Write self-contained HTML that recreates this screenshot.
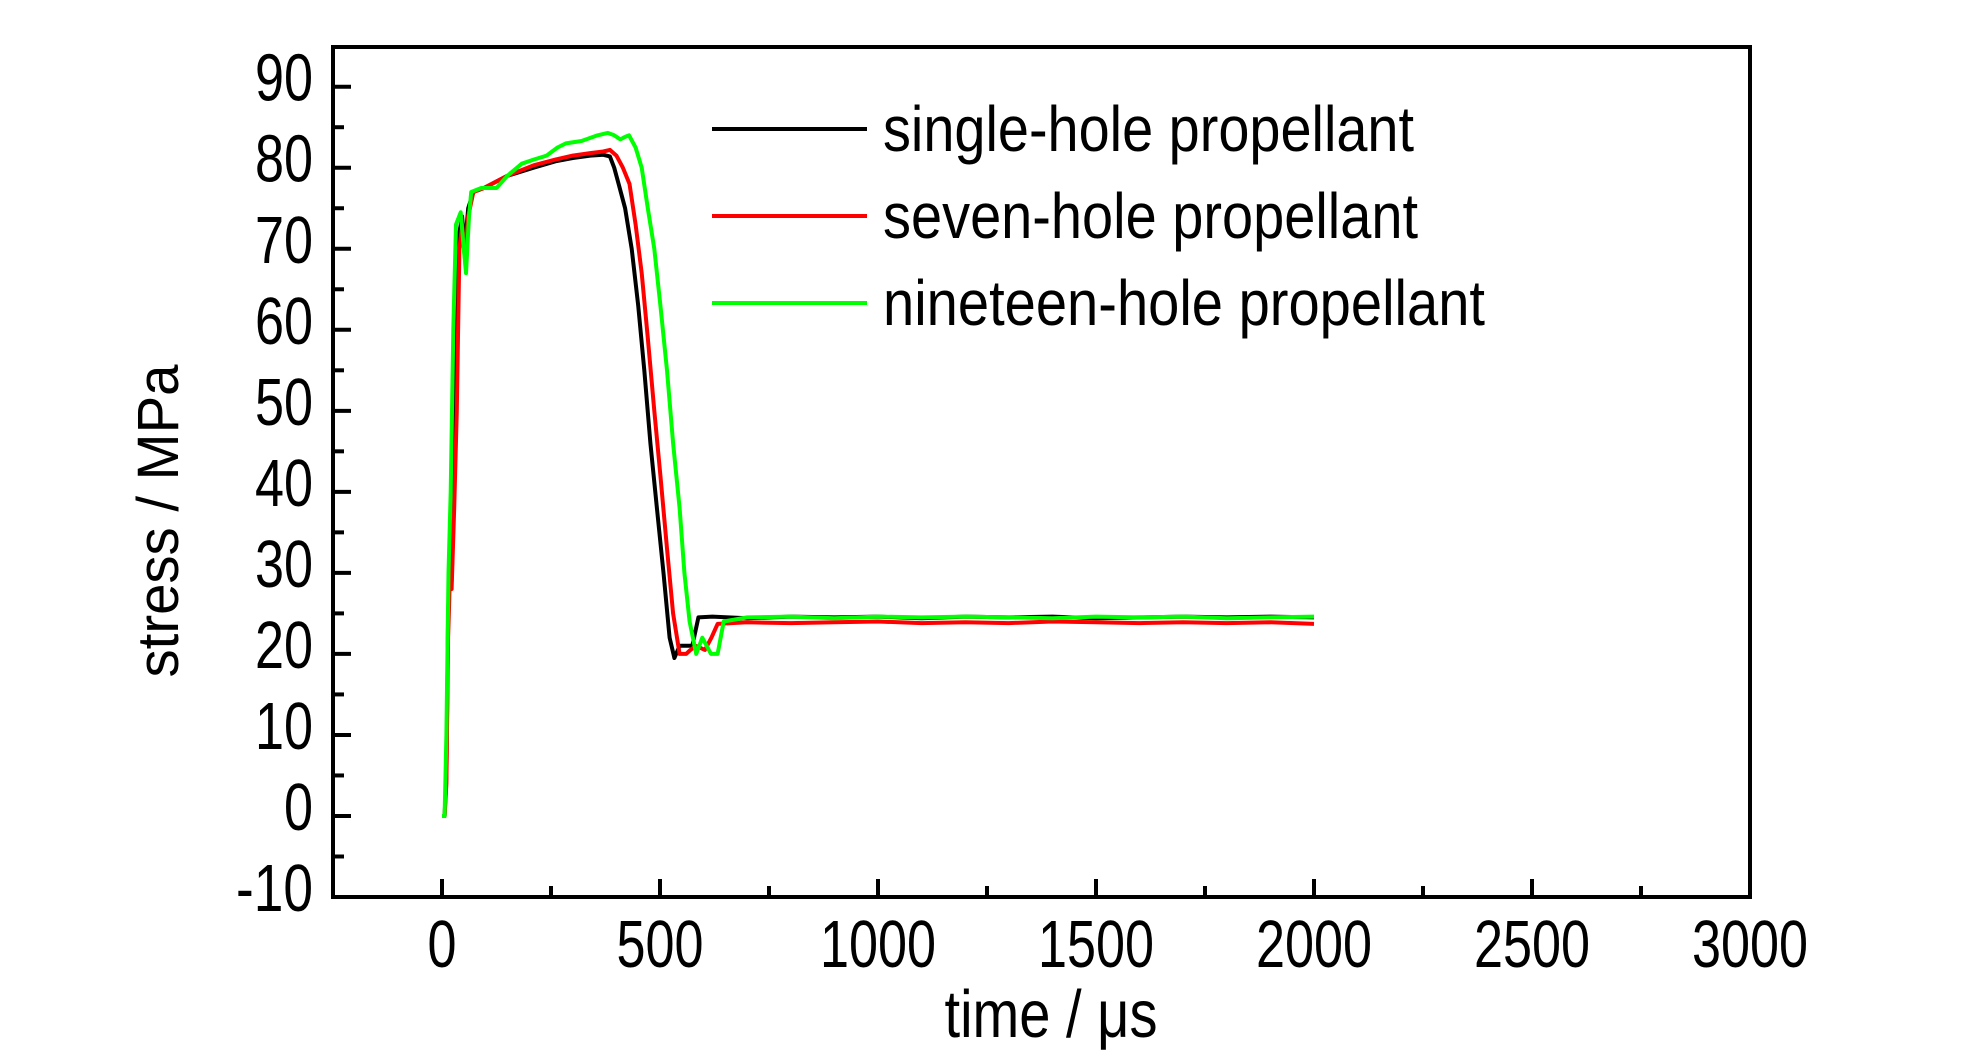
<!DOCTYPE html>
<html><head><meta charset="utf-8"><title>stress vs time</title>
<style>html,body{margin:0;padding:0;background:#fff}svg{display:block}</style></head>
<body>
<svg id="chart" width="1984" height="1062" viewBox="0 0 1984 1062" xmlns="http://www.w3.org/2000/svg" font-family="Liberation Sans, sans-serif"></svg>
<script>
const xTicks=[0,500,1000,1500,2000,2500,3000];
const yTicks=[-10,0,10,20,30,40,50,60,70,80,90];
const seriesNames=["single-hole propellant","seven-hole propellant","nineteen-hole propellant"];
const seriesColors=["#000000","#ff0000","#00ff00"];
const blackT=[0,6,10,14,18,22,28,34,40,46,52,60,72,96,150,210,260,300,340,370,385,395,405,420,435,450,464,478,493,508,522,533,545,560,574,588,620,700,800,900,1000,1100,1200,1300,1400,1500,1600,1700,1800,1900,2000];
const blackV=[0,0,5,25,30,29,40,70,72,74,70,75,77,77.5,79,80,80.8,81.2,81.5,81.6,81.4,80,78,75,70,63,55,46,38,30,22,19.5,21,21,21,24.5,24.6,24.4,24.6,24.5,24.6,24.4,24.6,24.5,24.6,24.4,24.5,24.6,24.5,24.6,24.5];
const redT=[0,6,10,14,18,22,28,34,40,46,52,60,72,96,150,210,260,300,340,370,385,400,415,430,444,458,472,487,501,516,530,545,560,570,582,603,618,632,700,800,900,1000,1100,1200,1300,1400,1500,1600,1700,1800,1900,2000];
const redV=[0,0,4,22,29,28,38,50,70,73,69,74,77,77.5,79,80.3,81,81.5,81.8,82,82.2,81.5,80,78,73,67,59,50,42,33,25,20,20,20.5,21,20.5,22,23.7,23.9,23.8,23.9,24,23.8,23.9,23.8,24,23.9,23.8,23.9,23.8,23.9,23.7];
const greenT=[0,6,10,15,20,26,32,43,50,55,62,67,90,125,150,183,210,240,265,284,320,357,380,395,409,420,429,444,458,472,487,501,516,530,545,556,568,583,597,617,632,646,700,800,900,1000,1100,1200,1300,1400,1500,1600,1700,1800,1900,2000];
const greenV=[0,0,10,30,40,60,73,74.5,70,67,74,77,77.5,77.5,79,80.5,81,81.5,82.5,83,83.3,84,84.3,84,83.5,83.8,84,82.5,80,75,70,63,55,46,38,30,24,20,22,20,20,24,24.5,24.6,24.4,24.6,24.5,24.6,24.5,24.4,24.6,24.5,24.6,24.4,24.5,24.6];
const seriesT=[blackT,redT,greenT], seriesV=[blackV,redV,greenV];

const L=333,R=1750,T=47,B=897;
const xMin=-250,xMax=3000,yMin=-10,yMax=94.9;
const sx=t=>L+(t-xMin)/(xMax-xMin)*(R-L);
const sy=v=>B-(v-yMin)/(yMax-yMin)*(B-T);
const NS="http://www.w3.org/2000/svg";
const svg=document.getElementById('chart');
function mk(tag,attrs,parent){const e=document.createElementNS(NS,tag);for(const k in attrs)e.setAttribute(k,attrs[k]);(parent||svg).appendChild(e);return e;}

const gS=mk('g',{});


for(let s=0;s<3;s++){
  const d=seriesT[s].map((t,i)=>(i?'L':'M')+sx(t).toFixed(1)+','+sy(seriesV[s][i]).toFixed(1)).join(' ');
  const p=mk('path',{d:d,fill:'none',stroke:seriesColors[s],'stroke-width':4,'stroke-linejoin':'round'},gS);
  
  
}
const fr=mk('rect',{x:L,y:T,width:R-L,height:B-T,fill:'none',stroke:'#000','stroke-width':4});


for(let t=0;t<=3000;t+=250){
  const major=t%500===0;
  const tk=mk('line',{x1:sx(t),x2:sx(t),y1:B,y2:B-(major?18:11),stroke:'#000','stroke-width':4});
  
  
}
xTicks.forEach(t=>{
  const s=String(t);
  const tx=mk('text',{x:sx(t),y:967,'font-size':67,'text-anchor':'middle',textLength:s.length*29,lengthAdjust:'spacingAndGlyphs'});
  tx.textContent=s;
  
  
});
for(let v=-5;v<=90;v+=5){
  const major=v%10===0;
  const tk=mk('line',{x1:L,x2:L+(major?18:11),y1:sy(v),y2:sy(v),stroke:'#000','stroke-width':4});
  
  
}
yTicks.forEach(v=>{
  const s=String(v);
  const w=s.replace('-','').length*29+(s[0]==='-'?19:0);
  const tx=mk('text',{x:313,y:sy(v)+14,'font-size':67,'text-anchor':'end',textLength:w,lengthAdjust:'spacingAndGlyphs'});
  tx.textContent=s;
  
  
});
const xt=mk('text',{x:1051,y:1037,'font-size':67,'text-anchor':'middle',textLength:213,lengthAdjust:'spacingAndGlyphs'});
xt.textContent='time / μs';


const yt=mk('text',{x:0,y:0,'font-size':58,'text-anchor':'middle',textLength:313,lengthAdjust:'spacingAndGlyphs',transform:'translate(178,521) rotate(-90)'});
yt.textContent='stress / MPa';


const legY=[129,216,303], legW=[531,535,602];
for(let s=0;s<3;s++){
  const g=mk('g',{});
  
  
  mk('line',{x1:712,x2:867,y1:legY[s],y2:legY[s],stroke:seriesColors[s],'stroke-width':4},g);
  const tx=mk('text',{x:883,y:legY[s]+22,'font-size':64,textLength:legW[s],lengthAdjust:'spacingAndGlyphs'},g);
  tx.textContent=seriesNames[s];
}
</script>
</body></html>
